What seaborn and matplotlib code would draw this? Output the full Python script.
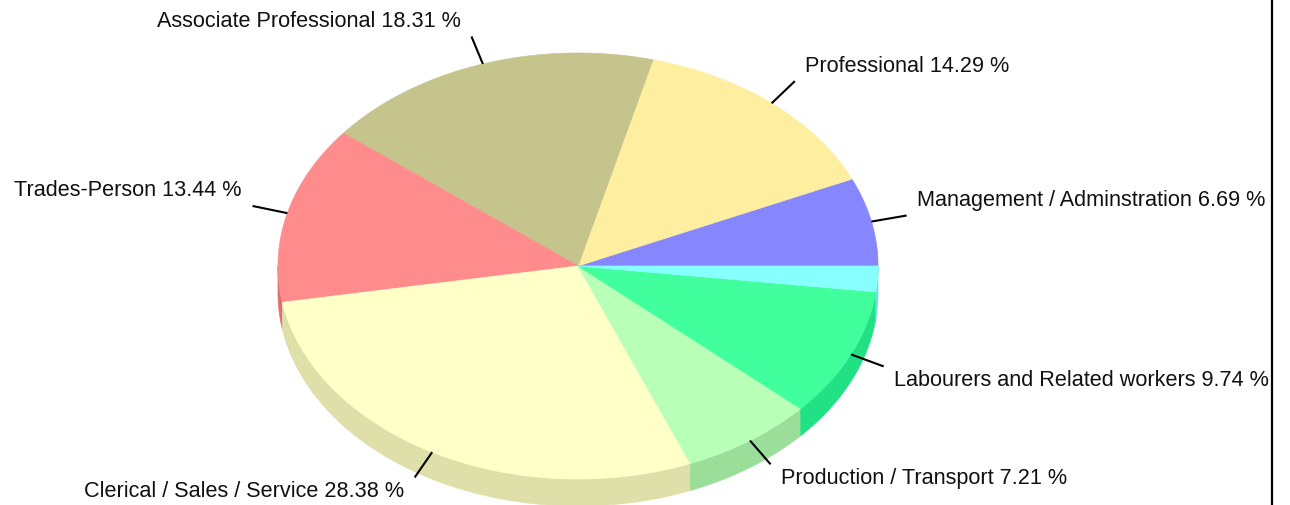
import numpy as np
import matplotlib
matplotlib.use("Agg")
import matplotlib.pyplot as plt
import seaborn as sns
from matplotlib.patches import Polygon

# ---- data ----
categories = ["Management / Adminstration", "Professional", "Associate Professional",
              "Trades-Person", "Clerical / Sales / Service", "Production / Transport",
              "Labourers and Related workers", ""]
percentages = [6.69, 14.29, 18.31, 13.44, 28.38, 7.21, 9.74, 1.94]
top_colors = ["#8686ff", "#fdeea0", "#c5c48c", "#ff8c8c", "#ffffc8", "#b8ffb8", "#40ff9c", "#88ffff"]
side_colors = ["#6a6ae0", "#dfd08a", "#a8a874", "#e07070", "#dfdfaa", "#9ade9a", "#22e084", "#6ae0e0"]

sns.set_style("white")
plt.rcParams['font.family'] = ['Liberation Sans', 'DejaVu Sans']

fig = plt.figure(figsize=(12.9, 5.06), dpi=100)
W_AX = 1272
ax = fig.add_axes([0, 0, W_AX / 1290, 1])
ax.set_xlim(0, W_AX)
ax.set_ylim(506, 0)
ax.set_xticks([])
ax.set_yticks([])
for s in ["top", "left", "bottom"]:
    ax.spines[s].set_visible(False)
ax.spines["right"].set_visible(True)
ax.spines["right"].set_color("black")
ax.spines["right"].set_linewidth(1.6)

cx, cy = 578, 267
rx, ry = 300, 213
depth = 27

tops = sns.color_palette(top_colors)
sides = sns.color_palette(side_colors)

vals = np.array(percentages, dtype=float)
cum = np.concatenate([[0], np.cumsum(vals)]) / vals.sum() * 360.0


def pt(a, dy=0.0):
    r = np.radians(a)
    return cx + rx * np.cos(r), cy - ry * np.sin(r) + dy

# side faces (front half: 180..360 degrees)
for i in range(len(vals)):
    a1, a2 = cum[i], cum[i + 1]
    lo, hi = max(a1, 180.0), min(a2, 360.0)
    if hi <= lo:
        continue
    angs = np.linspace(lo, hi, 80)
    topedge = [pt(a) for a in angs]
    botedge = [pt(a, depth) for a in angs[::-1]]
    ax.add_patch(Polygon(topedge + botedge, closed=True, facecolor=sides[i],
                         edgecolor=sides[i], linewidth=0.5))

# top faces
for i in range(len(vals)):
    a1, a2 = cum[i], cum[i + 1]
    angs = np.linspace(a1, a2, 120)
    poly = [(cx, cy)] + [pt(a) for a in angs]
    ax.add_patch(Polygon(poly, closed=True, facecolor=tops[i],
                         edgecolor=tops[i], linewidth=0.5))

# labels with leader lines
lx, ly = 36, 29
for i in range(len(vals)):
    if not categories[i]:
        continue
    mid = (cum[i] + cum[i + 1]) / 2
    r = np.radians(mid)
    x0, y0 = pt(mid)
    dx, dyv = np.cos(r), -np.sin(r)
    x1, y1 = x0 + dx * lx, y0 + dyv * ly
    ax.plot([x0, x1], [y0, y1], color="black", lw=1.5, solid_capstyle="butt")
    txt = f"{categories[i]} {percentages[i]:.2f} %"
    if dx >= 0:
        ha, tx = "left", x1 + 10
    else:
        ha, tx = "right", x1 - 11
    ty = y1 - 16 if dyv < 0 else y1 + 13
    ax.text(tx, ty, txt, ha=ha, va="center", fontsize=15.6, color="#111111",
            clip_on=True)

fig.savefig("out.png", dpi=100, facecolor="white")
